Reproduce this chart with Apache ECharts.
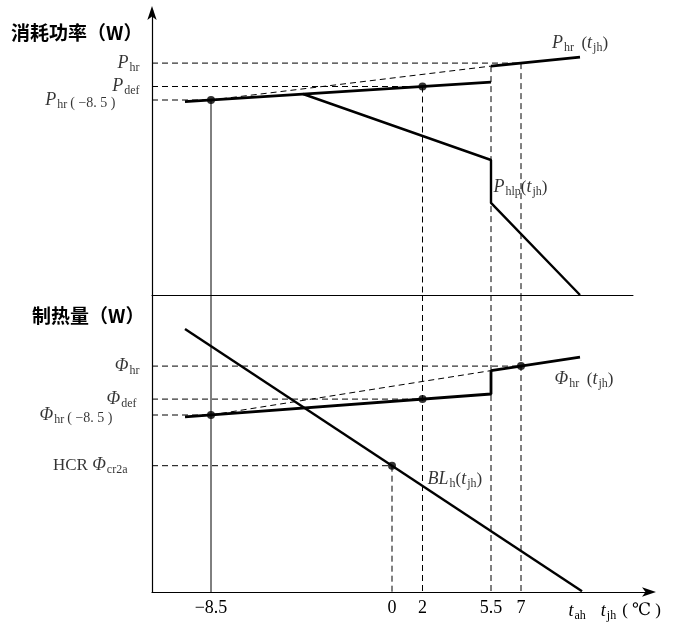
<!DOCTYPE html>
<html><head><meta charset="utf-8">
<script src="https://cdn.jsdelivr.net/npm/echarts@6/dist/echarts.min.js"></script>
<style>html,body{margin:0;padding:0;background:#fff}#c{width:673px;height:627px}</style>
</head><body><div id="c"></div>
<script>
// Schematic diagram (not to scale): x positions are schematic units along the temperature axis
const xTickPos = [11.8, 48, 54.1, 67.8, 73.8];          // positions of -8.5, 0, 2, 5.5, 7
const xTickLabels = ['−8.5', '0', '2', '5.5', '7'];

// Top panel: power consumption (schematic units)
const pLevelValues = [77.3, 69.5, 65];                   // P_hr, P_def, P_hr(-8.5)
const pLevelLabels = ['{i|P}{s|hr}', '{i|P}{s|def}', '{i|P}{s|hr}{p|( −8. 5 )}{g|}'];
const pHrLow = [[6.6, 64.45], [67.8, 70.96]];
const pHrHigh = [[67.8, 76.3], [85.6, 79.3]];
const pHlp = [[30.2, 67], [67.8, 45], [67.8, 30.7], [85.6, 0]];
const pDots = [[11.8, 65], [54.1, 69.5]];

// Bottom panel: heating capacity (schematic units)
const phiLevelValues = [75.3, 64.3, 59, 42.1];           // Φ_hr, Φ_def, Φ_hr(-8.5), HCR Φ_cr2a
const phiLevelLabels = ['{i|Φ}{s|hr}', '{i|Φ}{s|def}{g2|}', '{i|Φ}{s|hr}{p|( −8. 5 )}{g2|}{g|}', '{n|HCR }{i|Φ}{s|cr2a}{g3|}'];
const phiLow = [[6.6, 58.35], [67.8, 66.0], [67.8, 73.8]];
const phiHigh = [[67.8, 73.8], [85.6, 78.3]];
const blh = [[6.6, 87.7], [86, 0.26]];
const phiDots = [[11.8, 59], [54.1, 64.3], [73.8, 75.3], [48, 42.1]];

const serif = '"Liberation Serif","DejaVu Serif",serif';
const rich = {
  i: {fontFamily: serif, fontStyle: 'italic', fontSize: 18, color: '#000', lineHeight: 14},
  s: {fontFamily: serif, fontSize: 12, color: '#000', lineHeight: 14, padding: [9, 0, 0, 1]},
  p: {fontFamily: serif, fontSize: 14, color: '#000', lineHeight: 14, padding: [7, 0, 0, 3]},
  n: {fontFamily: serif, fontSize: 17, color: '#000', lineHeight: 14},
  g: {width: 24, lineHeight: 14},
  g2: {width: 3, lineHeight: 14},
  g3: {width: 12, lineHeight: 14},
  g4: {width: 15, lineHeight: 14},
  g5: {width: 6, lineHeight: 14}
};
const K = '#000';
const dash = [6, 4];

function seg(data, gi, width, type) {
  return {
    type: 'line', xAxisIndex: gi, yAxisIndex: gi, data: data, symbol: 'none',
    lineStyle: {color: K, width: width, type: type || 'solid'}, silent: true, animation: false, z: width > 1.5 ? 5 : 3
  };
}
function dots(data, gi) {
  return {type: 'scatter', xAxisIndex: gi, yAxisIndex: gi, data: data, symbol: 'circle', symbolSize: 8,
    itemStyle: {color: K}, silent: true, animation: false, z: 10};
}
function tag(point, gi, text, position, distance, align, vAlign) {
  const label = {show: true, position: position, distance: distance, formatter: text, rich: rich, color: K};
  if (align) { label.align = align; label.verticalAlign = vAlign; }
  return {type: 'scatter', xAxisIndex: gi, yAxisIndex: gi, data: [point], symbolSize: 1,
    itemStyle: {color: 'rgba(0,0,0,0)'}, silent: true, animation: false, z: 12,
    labelLayout: {hideOverlap: false}, label: label};
}

const [xm85, x0, x2, x55, x7] = xTickPos;
const [pHr, pDef, pM85] = pLevelValues;
const [fHr, fDef, fM85, fHcr] = phiLevelValues;

const series = [
  // top panel guides
  seg([[xm85, pM85], [xm85, 0]], 0, 1),
  seg([[x2, pDef], [x2, 0]], 0, 1, dash),
  seg([[x55, pHrHigh[0][1]], [x55, 0]], 0, 1, dash),
  seg([[x7, pHr], [x7, 0]], 0, 1, dash),
  seg([[0, pHr], [x7, pHr]], 0, 1, dash),
  seg([[0, pDef], [x2, pDef]], 0, 1, dash),
  seg([[0, pM85], [xm85, pM85]], 0, 1, dash),
  seg([[xm85, pM85], [x55, pHrHigh[0][1]]], 0, 1, dash),
  // top panel curves
  seg(pHrLow, 0, 2.8),
  seg(pHrHigh, 0, 2.8),
  seg(pHlp, 0, 2.4),
  dots(pDots, 0),
  tag(pHrHigh[1], 0, '{i|P}{s|hr} {n| (}{i|t}{s|jh}{n|)}', 'top', 6),
  tag(pHlp[1], 0, '{i|P}{s|hlp}{n|(}{i|t}{s|jh}{n|)}', [3, 28], 0, 'left', 'middle'),
  ...pLevelValues.map((v, k) => tag([0, v], 0, pLevelLabels[k], 'left', 12)),

  // bottom panel guides
  seg([[xm85, 99], [xm85, 0]], 1, 1),
  seg([[x0, fHcr], [x0, 0]], 1, 1, dash),
  seg([[x2, 99], [x2, 0]], 1, 1, dash),
  seg([[x55, 99], [x55, 0]], 1, 1, dash),
  seg([[x7, 99], [x7, 0]], 1, 1, dash),
  seg([[0, fHr], [x7, fHr]], 1, 1, dash),
  seg([[0, fDef], [x2, fDef]], 1, 1, dash),
  seg([[0, fM85], [xm85, fM85]], 1, 1, dash),
  seg([[0, fHcr], [x0, fHcr]], 1, 1, dash),
  seg([[xm85, fM85], [x55, phiLow[2][1]]], 1, 1, dash),
  // bottom panel curves
  seg(phiLow, 1, 2.8),
  seg(phiHigh, 1, 2.8),
  seg(blh, 1, 2.4),
  dots(phiDots, 1),
  tag(phiHigh[1], 1, '{i|Φ}{s|hr} {n| (}{i|t}{s|jh}{n|)}', [-25, 23], 0, 'left', 'middle'),
  tag([x0, fHcr], 1, '{i|BL}{s|h}{n|(}{i|t}{s|jh}{n|)}', [36, 14], 0, 'left', 'middle'),
  ...phiLevelValues.map((v, k) => tag([0, v], 1, phiLevelLabels[k], 'left', 12))
];

const chart = echarts.init(document.getElementById('c'), null, {renderer: 'canvas'});
chart.setOption({
  backgroundColor: '#fff',
  animation: false,
  grid: [
    {left: 152, top: 10, width: 481, height: 285},
    {left: 152, top: 295, width: 500, height: 297}
  ],
  xAxis: [
    {type: 'value', gridIndex: 0, min: 0, max: 96.2, splitLine: {show: false}, axisTick: {show: false},
      axisLabel: {show: false}, axisLine: {onZero: false, lineStyle: {color: K, width: 1}}},
    {type: 'value', gridIndex: 1, min: 0, max: 100, splitLine: {show: false}, axisTick: {show: false},
      axisLine: {onZero: false, lineStyle: {color: K, width: 1.2}, symbol: ['none', 'arrow'], symbolSize: [7, 14], symbolOffset: [0, 4]},
      axisLabel: {customValues: xTickPos, margin: 7, hideOverlap: false, formatter: (v) => xTickLabels[xTickPos.indexOf(v)],
        fontFamily: serif, fontSize: 18, color: K},
      name: '{i|t}{s|ah}{g4|}{i|t}{s|jh}{g5|}{n|( ℃ )}', nameLocation: 'end', nameGap: 9,
      nameTextStyle: {align: 'right', verticalAlign: 'top', padding: [12, 0, 0, 0], rich: rich}}
  ],
  yAxis: [
    {type: 'value', gridIndex: 0, min: 0, max: 95, splitLine: {show: false}, axisTick: {show: false},
      axisLine: {onZero: false, lineStyle: {color: K, width: 1.2}, symbol: ['none', 'arrow'], symbolSize: [7, 14], symbolOffset: [0, 4]},
      axisLabel: {show: false}},
    {type: 'value', gridIndex: 1, min: 0, max: 99, splitLine: {show: false}, axisTick: {show: false},
      axisLine: {onZero: false, lineStyle: {color: K, width: 1.2}},
      axisLabel: {show: false}}
  ],
  graphic: [
    {type: 'text', left: 11, top: 23, style: {text: '消耗功率（W）', font: 'bold 19px "Noto Sans CJK SC"', fill: K}},
    {type: 'text', left: 32, top: 306, style: {text: '制热量（W）', font: 'bold 19px "Noto Sans CJK SC"', fill: K}}
  ],
  series: series
});
</script></body></html>
